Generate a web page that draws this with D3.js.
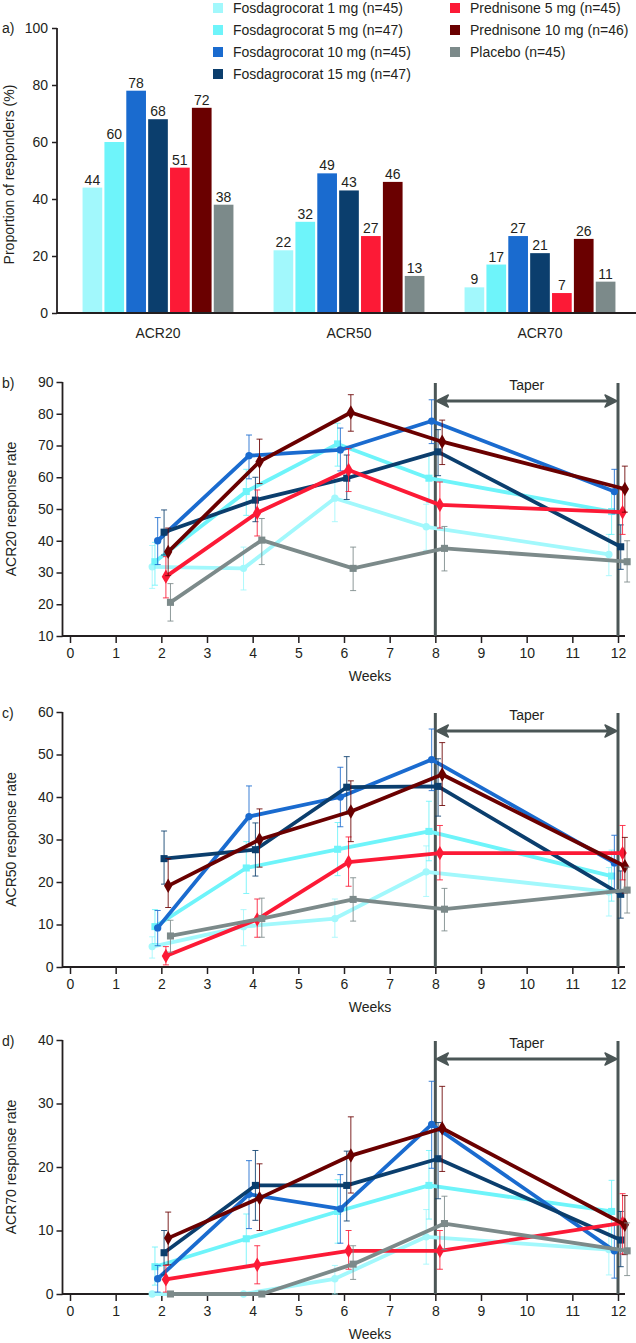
<!DOCTYPE html>
<html><head><meta charset="utf-8">
<script src="https://cdn.jsdelivr.net/npm/d3@7/dist/d3.min.js"></script>
<style>
body{margin:0;background:#fff;}
text{font-family:"Liberation Sans",Arial,Helvetica,sans-serif;fill:#231f20;}
</style></head>
<body><svg id="c" width="636" height="1343"></svg>
<script>
// ---------- DATA ----------
const seriesNames = ["Fosdagrocorat 1 mg (n=45)","Fosdagrocorat 5 mg (n=47)","Fosdagrocorat 10 mg (n=45)","Fosdagrocorat 15 mg (n=47)","Prednisone 5 mg (n=45)","Prednisone 10 mg (n=46)","Placebo (n=45)"];
const seriesColors = ["#a2f8fc","#6ef4fa","#1a6bcf","#0b3e6d","#fc1a36","#6a0000","#7c8a8a"];
const seriesShapes = ["circle","square","circle","square","diamond","diamond","square"];
const acrCategories = ["ACR20","ACR50","ACR70"];
// bar values (% responders) per category, series order
const barACR20 = [44,60,78,68,51,72,38];
const barACR50 = [22,32,49,43,27,46,13];
const barACR70 = [9,17,27,21,7,26,11];
const yTicksA = [0,20,40,60,80,100];

const weeks = [2,4,6,8,12];
const weekTicks = [0,1,2,3,4,5,6,7,8,9,10,11,12];
const dodge = [-0.2,-0.14,-0.08,0.06,0.1,0.15,0.2];

const acr20Mean = [
 [31.8,31.3,53.4,44.4,35.7],[33.4,55.5,70.5,59.7,49.2],[40.0,66.8,68.6,77.7,55.5],[42.7,52.8,59.7,68.0,38.1],
 [28.7,48.8,62.3,51.3,49.0],[36.5,64.9,80.4,71.2,56.3],[20.6,40.2,31.3,37.6,33.4]];
const acr20Low = [
 [25,24.5,46,37,29],[26,48,63.5,52,42],[32.5,59.5,62,70.6,48.5],[35.5,46,53,60.5,31],
 [22,41.5,55.5,44,42],[29,58,74.5,64,49],[14.7,32.5,24.3,30.5,27]];
const acr20High = [
 [38.5,38,60,51.5,42],[39.5,62.5,77,67,56],[47.3,73.3,75.5,84.4,62.5],[49.7,60,67,75,45],
 [35,56,69,58.5,56],[44,72,86,78,63.5],[26.5,47,38,44.5,40]];

const acr50Mean = [
 [4.8,9.5,11.4,22.4,17.7],[9.5,23.3,27.7,31.9,21.4],[9.2,35.4,40.0,48.8,24.5],[25.5,27.6,42.3,42.5,17.1],
 [2.6,11.2,24.7,26.8,26.8],[19.1,30.0,36.6,45.3,23.7],[7.3,11.4,15.9,13.6,18.1]];
const acr50Low = [
 [2.1,5,7,16.6,12],[5.5,17.3,21.5,25,15.5],[5,28.5,33,41.5,18],[19.5,21.4,36,35.5,11.5],
 [0.5,7,19,20.5,20.5],[14,23.5,29.5,38,17.4],[3.5,7,10.8,8.5,12.7]];
const acr50High = [
 [7.1,13.5,16,28.5,23.4],[13.5,29.5,34,39,27.5],[13.3,42.6,47,56,31],[32,33.9,49.5,49,22.6],
 [4.8,16,30.6,33.3,33.3],[25.5,37.2,43.8,52.8,30.5],[11,16.2,21,18.5,23.5]];

const acr70Mean = [
 [0,0,2.4,9.0,7.0],[4.3,8.7,13.0,17.1,13.0],[2.4,15.7,13.4,26.7,6.8],[6.5,17.1,17.1,21.3,8.5],
 [2.3,4.6,6.8,6.8,11.2],[8.8,15.1,21.8,26.1,10.9],[0,0,4.7,11.1,6.8]];
const acr70Low = [
 [0,0,0,4.7,3],[1.4,4.5,8,11.8,7],[0.3,10.3,8,19.8,2.5],[3,11.6,11.5,15,4.3],
 [0.3,1.6,3.9,3.9,6.3],[4.6,10,15.9,19.3,6.2],[0,0,2.3,7,2.9]];
const acr70High = [
 [0,0,4.5,13.3,11],[7.4,12.6,18,22.6,17.9],[4.5,21,18.8,33.5,11],[10,22.6,22.5,27,13],
 [4.5,7.6,10,10,15.8],[12.9,20.5,27.9,32.7,15.5],[0,0,7.6,15.4,11.2]];

// ---------- DRAW ----------
const svg = d3.select("#c");
const FS = 14;
const axisCol = "#231f20";
const taperCol = "#4b5656";

function styleAxis(g){
  g.selectAll("path.domain").remove();
  g.selectAll("line").attr("stroke",axisCol).attr("stroke-width",1.5);
  g.selectAll("text").attr("font-size",FS).attr("fill",axisCol)
   .style("font-family",'"Liberation Sans",Arial,sans-serif');
}

// Legend
const legX = [213,450], legY0 = 8, legDy = 22;
seriesNames.forEach((n,i)=>{
  const col = i<4?0:1, row = i<4?i:i-4;
  const g = svg.append("g").attr("transform",`translate(${legX[col]},${legY0+row*legDy})`);
  g.append("rect").attr("x",0).attr("y",-5).attr("width",10).attr("height",10).attr("fill",seriesColors[i]);
  g.append("text").attr("x",20).attr("y",0).attr("dy","0.35em").attr("font-size",FS).text(n);
});

// Panel a
(function(){
  const y = d3.scaleLinear().domain([0,100]).range([313,28]);
  const x = d3.scaleBand().domain(acrCategories).range([62.5,635.5]).paddingInner(0.21).paddingOuter(0.105);
  const xi = d3.scaleBand().domain(d3.range(7)).range([0,x.bandwidth()]).paddingInner(0.1);
  const barVals = {ACR20:barACR20,ACR50:barACR50,ACR70:barACR70};
  const ax = svg.append("g").attr("transform","translate(57,0)").call(d3.axisLeft(y).tickValues(yTicksA).tickSize(5).tickPadding(4));
  styleAxis(ax);
  svg.append("line").attr("x1",57).attr("x2",57).attr("y1",y(100)).attr("y2",y(0)).attr("stroke",axisCol).attr("stroke-width",1.8);
  acrCategories.forEach(c=>{
    const g = svg.append("g").attr("transform",`translate(${x(c)},0)`);
    g.selectAll("rect").data(barVals[c]).join("rect")
      .attr("x",(d,i)=>xi(i)).attr("width",xi.bandwidth())
      .attr("y",d=>y(d)).attr("height",d=>y(0)-y(d)).attr("fill",(d,i)=>seriesColors[i]);
    g.selectAll("text.v").data(barVals[c]).join("text").attr("class","v")
      .attr("x",(d,i)=>xi(i)+xi.bandwidth()/2).attr("y",d=>y(d)-3)
      .attr("text-anchor","middle").attr("font-size",FS).text(d=>d);
    svg.append("text").attr("x",x(c)+x.bandwidth()/2).attr("y",338).attr("text-anchor","middle").attr("font-size",FS).text(c);
  });
  svg.append("line").attr("x1",57).attr("x2",636).attr("y1",y(0)).attr("y2",y(0)).attr("stroke",axisCol).attr("stroke-width",1.8);
  svg.append("text").attr("x",2).attr("y",y(100)).attr("dy","0.35em").attr("font-size",FS).text("a)");
  svg.append("text").attr("transform",`translate(9,${(y(0)+y(100))/2+4}) rotate(-90)`).attr("text-anchor","middle").attr("dy","0.35em").attr("font-size",FS).text("Proportion of responders (%)");
})();

// Line panels
function linePanel(opt){
  const {label, ylab, ydom, yTop, yBot, ticks, mean, low, high} = opt;
  const x = d3.scaleLinear().domain([0,12]).range([70,618]);
  const y = d3.scaleLinear().domain(ydom).range([yBot,yTop]);
  const ax = svg.append("g").attr("transform","translate(62.5,0)").call(d3.axisLeft(y).tickValues(ticks).tickSize(6).tickPadding(3));
  styleAxis(ax);
  const bx = svg.append("g").attr("transform",`translate(0,${yBot})`).call(d3.axisBottom(x).tickValues(weekTicks).tickSize(7).tickPadding(5));
  styleAxis(bx);
  svg.append("line").attr("x1",62.5).attr("x2",62.5).attr("y1",yTop).attr("y2",yBot).attr("stroke",axisCol).attr("stroke-width",1.8);
  svg.append("line").attr("x1",62).attr("x2",625).attr("y1",yBot).attr("y2",yBot).attr("stroke",axisCol).attr("stroke-width",1.8);
  svg.append("text").attr("x",370).attr("y",yBot+45).attr("text-anchor","middle").attr("font-size",FS).text("Weeks");
  svg.append("text").attr("x",2).attr("y",yTop+1).attr("dy","0.35em").attr("font-size",FS).text(label);
  svg.append("text").attr("transform",`translate(11,${(yTop+yBot)/2}) rotate(-90)`).attr("text-anchor","middle").attr("dy","0.35em").attr("font-size",FS).text(ylab);
  // taper
  [8,12].forEach(w=>svg.append("line").attr("x1",x(w)).attr("x2",x(w)).attr("y1",yTop+1).attr("y2",yBot).attr("stroke",taperCol).attr("stroke-width",3));
  const ay = yTop+19;
  svg.append("line").attr("x1",x(8)+8).attr("x2",x(12)-8).attr("y1",ay).attr("y2",ay).attr("stroke",taperCol).attr("stroke-width",3);
  svg.append("path").attr("d",`M${x(8)+1},${ay} L${x(8)+13},${ay-6} L${x(8)+10},${ay} L${x(8)+13},${ay+6} Z`).attr("fill",taperCol).attr("stroke",taperCol).attr("stroke-width",1.5).attr("stroke-linejoin","round");
  svg.append("path").attr("d",`M${x(12)-1},${ay} L${x(12)-13},${ay-6} L${x(12)-10},${ay} L${x(12)-13},${ay+6} Z`).attr("fill",taperCol).attr("stroke",taperCol).attr("stroke-width",1.5).attr("stroke-linejoin","round");
  svg.append("text").attr("x",(x(8)+x(12))/2).attr("y",ay-11).attr("text-anchor","middle").attr("font-size",FS).text("Taper");
  // series
  const line = d3.line().x(d=>x(d.w)).y(d=>y(d.v));
  const symTypes = {circle:d3.symbolCircle,square:d3.symbolSquare,diamond:d3.symbolDiamond};
  const symSize = {circle:42,square:50,diamond:60};
  mean.forEach((vals,s)=>{
    const pts = vals.map((v,k)=>({w:weeks[k]+dodge[s],v,lo:low[s][k],hi:high[s][k]}));
    const g = svg.append("g");
    pts.filter(p=>p.hi>p.lo).forEach(p=>{
      const px = x(p.w);
      g.append("line").attr("x1",px).attr("x2",px).attr("y1",y(p.lo)).attr("y2",y(p.hi)).attr("stroke",seriesColors[s]).attr("stroke-width",1).attr("opacity",0.85);
      [p.lo,p.hi].forEach(e=>g.append("line").attr("x1",px-3).attr("x2",px+3).attr("y1",y(e)).attr("y2",y(e)).attr("stroke",seriesColors[s]).attr("stroke-width",1).attr("opacity",0.85));
    });
    g.append("path").datum(pts).attr("d",line).attr("fill","none").attr("stroke",seriesColors[s]).attr("stroke-width",3.8).attr("stroke-linejoin","round");
    g.selectAll("path.m").data(pts).join("path").attr("class","m")
      .attr("transform",p=>`translate(${x(p.w)},${y(p.v)})`)
      .attr("d",d3.symbol().type(symTypes[seriesShapes[s]]).size(symSize[seriesShapes[s]])())
      .attr("fill",seriesColors[s]);
  });
}

linePanel({label:"b)",ylab:"ACR20 response rate",ydom:[10,90],yTop:382,yBot:636,ticks:[10,20,30,40,50,60,70,80,90],mean:acr20Mean,low:acr20Low,high:acr20High});
linePanel({label:"c)",ylab:"ACR50 response rate",ydom:[0,60],yTop:712,yBot:967,ticks:[0,10,20,30,40,50,60],mean:acr50Mean,low:acr50Low,high:acr50High});
linePanel({label:"d)",ylab:"ACR70 response rate",ydom:[0,40],yTop:1040,yBot:1294,ticks:[0,10,20,30,40],mean:acr70Mean,low:acr70Low,high:acr70High});
</script></body></html>
